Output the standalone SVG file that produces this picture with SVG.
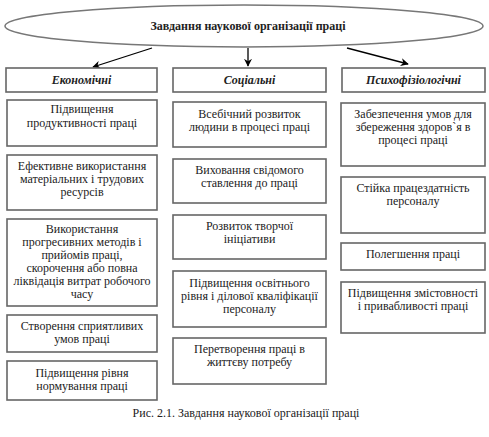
<svg xmlns="http://www.w3.org/2000/svg" width="489" height="437" viewBox="0 0 489 437" font-family="'Liberation Serif', 'DejaVu Serif', serif">
<defs>
<marker id="ah" viewBox="0 0 10 10" refX="9" refY="5" markerWidth="8" markerHeight="8" markerUnits="userSpaceOnUse" orient="auto">
<path d="M0,0 L10,5 L0,10 L3,5 Z" fill="#000"/>
</marker>
</defs>
<style>
rect{fill:#fff;stroke:#666;stroke-width:1.6}
ellipse{fill:#fff;stroke:#777;stroke-width:1.5}
text{font-family:'Liberation Serif','DejaVu Serif',serif;font-size:12px;fill:#222;text-anchor:middle}
.h{font-weight:bold;font-style:italic}
.t{font-weight:bold}
.c line{stroke:#000;stroke-width:1.3;marker-end:url(#ah)}
</style>
<rect width="489" height="437" style="fill:#fff;stroke:none"/>
<g id="root"><ellipse cx="244" cy="26" rx="239" ry="21"/><text class="t" x="248" y="30">Завдання наукової організації праці</text></g>
<g class="c" id="connectors">
<line x1="152" y1="48" x2="93" y2="67"/>
<line x1="248" y1="48" x2="248" y2="66"/>
<line x1="347" y1="48" x2="408" y2="64"/>
</g>
<g id="h1"><rect x="6" y="68" width="151" height="24"/><text class="h" x="81.5" y="84">Економічні</text></g>
<g id="h2"><rect x="173" y="68" width="153" height="24"/><text class="h" x="249.5" y="84">Соціальні</text></g>
<g id="h3"><rect x="342" y="68" width="143" height="24"/><text class="h" x="413.5" y="84">Психофізіологічні</text></g>

<g id="e1"><rect x="7" y="100" width="150" height="46"/><text x="82" y="113">Підвищення</text><text x="82" y="127">продуктивності праці</text></g>
<g id="e2"><rect x="7" y="155" width="150" height="55"/><text x="82" y="170">Ефективне використання</text><text x="82" y="183">матеріальних і трудових</text><text x="82" y="196">ресурсів</text></g>
<g id="e3"><rect x="7" y="219" width="150" height="87"/><text x="82" y="233">Використання</text><text x="82" y="246">прогресивних методів і</text><text x="82" y="259">прийомів праці,</text><text x="82" y="272">скорочення або повна</text><text x="82" y="285">ліквідація витрат робочого</text><text x="82" y="298">часу</text></g>
<g id="e4"><rect x="7" y="315" width="150" height="37"/><text x="82" y="330">Створення сприятливих</text><text x="82" y="343">умов праці</text></g>
<g id="e5"><rect x="7" y="361" width="150" height="39"/><text x="82" y="377">Підвищення рівня</text><text x="82" y="390">нормування праці</text></g>

<g id="s1"><rect x="173" y="102" width="153" height="45"/><text x="249.5" y="118">Всебічний розвиток</text><text x="249.5" y="131">людини в процесі праці</text></g>
<g id="s2"><rect x="173" y="159" width="153" height="44"/><text x="249.5" y="174">Виховання свідомого</text><text x="249.5" y="187">ставлення до праці</text></g>
<g id="s3"><rect x="173" y="215" width="153" height="44"/><text x="249.5" y="230">Розвиток творчої</text><text x="249.5" y="243">ініціативи</text></g>
<g id="s4"><rect x="173" y="271" width="153" height="56"/><text x="249.5" y="287">Підвищення освітнього</text><text x="249.5" y="300">рівня і ділової кваліфікації</text><text x="249.5" y="313">персоналу</text></g>
<g id="s5"><rect x="173" y="338" width="153" height="46"/><text x="249.5" y="353">Перетворення праці в</text><text x="249.5" y="366">життєву потребу</text></g>

<g id="p1"><rect x="341" y="103" width="144" height="63"/><text x="413" y="118">Забезпечення умов для</text><text x="413" y="131">збереження здоров`я в</text><text x="413" y="144">процесі праці</text></g>
<g id="p2"><rect x="341" y="177" width="144" height="56"/><text x="413" y="192">Стійка працездатність</text><text x="413" y="205">персоналу</text></g>
<g id="p3"><rect x="341" y="243" width="144" height="27"/><text x="413" y="258">Полегшення праці</text></g>
<g id="p4"><rect x="341" y="282" width="144" height="51"/><text x="413" y="297">Підвищення змістовності</text><text x="413" y="310">і привабливості праці</text></g>

<text x="246" y="417">Рис. 2.1. Завдання наукової організації праці</text>
</svg>
